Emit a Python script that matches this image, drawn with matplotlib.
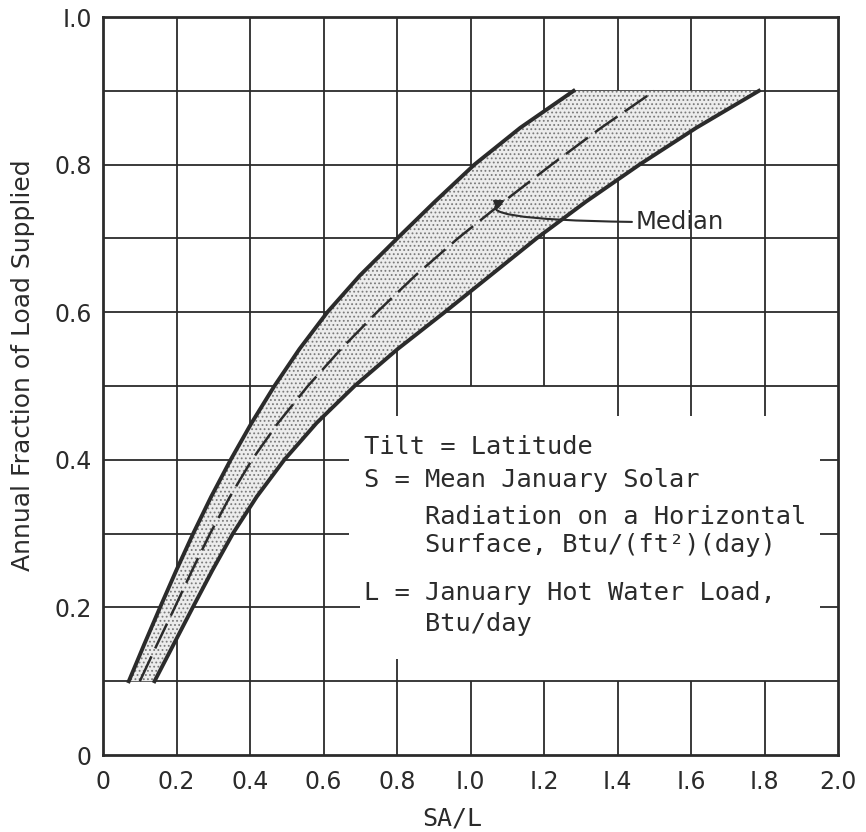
import matplotlib
matplotlib.use("Agg")
import matplotlib.pyplot as plt

# ---------------- data ----------------
# y levels (annual fraction) and the SA/L of each curve at those levels
frac = [0.10, 0.15, 0.20, 0.25, 0.30, 0.35, 0.40, 0.45, 0.50,
        0.55, 0.60, 0.65, 0.70, 0.75, 0.80, 0.85, 0.90]
sal_upper = [0.07, 0.112, 0.155, 0.199, 0.245, 0.294, 0.347, 0.404, 0.466,
             0.534, 0.61, 0.699, 0.80, 0.903, 1.01, 1.135, 1.28]
sal_median = [0.10, 0.147, 0.195, 0.242, 0.291, 0.345, 0.405, 0.476, 0.557,
              0.647, 0.745, 0.85, 0.965, 1.09, 1.22, 1.355, 1.50]
sal_lower = [0.14, 0.192, 0.244, 0.297, 0.353, 0.418, 0.493, 0.581, 0.684,
             0.801, 0.929, 1.054, 1.179, 1.314, 1.459, 1.614, 1.784]

xticks = [0, 0.2, 0.4, 0.6, 0.8, 1.0, 1.2, 1.4, 1.6, 1.8, 2.0]
xlabels = ["0", "0.2", "0.4", "0.6", "0.8", "I.0", "I.2", "I.4", "I.6", "I.8", "2.0"]
yticks = [0, 0.2, 0.4, 0.6, 0.8, 1.0]
ylabels = ["0", "0.2", "0.4", "0.6", "0.8", "I.0"]

# grid pieces, the text block leaves a hole in the grid
hgrid = [(0.1, 0, 2), (0.2, 0, 0.70), (0.2, 1.95, 2), (0.3, 0, 0.67), (0.3, 1.95, 2),
         (0.4, 0, 0.67), (0.4, 1.95, 2), (0.5, 0, 2), (0.6, 0, 2), (0.7, 0, 2),
         (0.8, 0, 2), (0.9, 0, 2)]
vgrid = [(0.2, 0, 1), (0.4, 0, 1), (0.6, 0, 1), (0.8, 0, 0.13), (0.8, 0.46, 1),
         (1.0, 0, 0.1), (1.0, 0.5, 1), (1.2, 0, 0.1), (1.2, 0.5, 1),
         (1.4, 0, 0.1), (1.4, 0.46, 1), (1.6, 0, 0.1), (1.6, 0.46, 1),
         (1.8, 0, 0.1), (1.8, 0.46, 1)]

notes = [(0.417, "Tilt = Latitude"),
         (0.373, "S = Mean January Solar"),
         (0.322, "    Radiation on a Horizontal"),
         (0.284, "    Surface, Btu/(ft²)(day)"),
         (0.220, "L = January Hot Water Load,"),
         (0.177, "    Btu/day")]

ink = "#2b2b2b"
mono = ["DejaVu Sans Mono"]

fig = plt.figure(figsize=(8.66, 8.32), dpi=100)
ax = fig.add_axes([0.119, 0.0925, 0.849, 0.887])
ax.set_xlim(0, 2.0)
ax.set_ylim(0, 1.0)

for y, x0, x1 in hgrid:
    ax.hlines(y, x0, x1, color=ink, lw=1.3, zorder=1)
for x, y0, y1 in vgrid:
    ax.vlines(x, y0, y1, color=ink, lw=1.3, zorder=1)

# stippled band
plt.rcParams["hatch.linewidth"] = 0.8
ax.fill_betweenx(frac, sal_upper, sal_lower, facecolor="#ececec",
                 edgecolor="#7a7a7a", hatch="....", lw=0, zorder=2)

ax.plot(sal_upper, frac, color=ink, lw=2.8, zorder=3, solid_joinstyle="round")
ax.plot(sal_lower, frac, color=ink, lw=2.8, zorder=3, solid_joinstyle="round")
ax.plot(sal_median, frac, color=ink, lw=1.8, dashes=(11, 3.5), zorder=3)

ax.annotate("Median", xy=(1.093, 0.752), xytext=(1.45, 0.722),
            ha="left", va="center", fontsize=17.5, color=ink,
            arrowprops=dict(arrowstyle="-|>", color=ink, lw=1.5,
                            connectionstyle="angle3,angleA=0,angleB=25",
                            shrinkA=1, shrinkB=0, mutation_scale=14),
            zorder=4)

for y, s in notes:
    ax.text(0.71, y, s, ha="left", va="center", fontsize=18.3,
            family=mono, color=ink, zorder=4)

for sp in ax.spines.values():
    sp.set_linewidth(2)
    sp.set_color(ink)

ax.set_xticks(xticks)
ax.set_xticklabels(xlabels)
ax.set_yticks(yticks)
ax.set_yticklabels(ylabels)
ax.tick_params(length=0, labelsize=17, colors=ink)
ax.tick_params(axis="x", pad=11)
ax.tick_params(axis="y", pad=8)

fig.text(23 / 866, 0.561, "Annual Fraction of Load Supplied", rotation=90,
         ha="center", va="center", fontsize=18, color=ink)
fig.text(452 / 866, 1 - 818 / 832, "SA/L", ha="center", va="center",
         fontsize=18, family=mono, color=ink)

fig.savefig("out.png", dpi=100, facecolor="white")
